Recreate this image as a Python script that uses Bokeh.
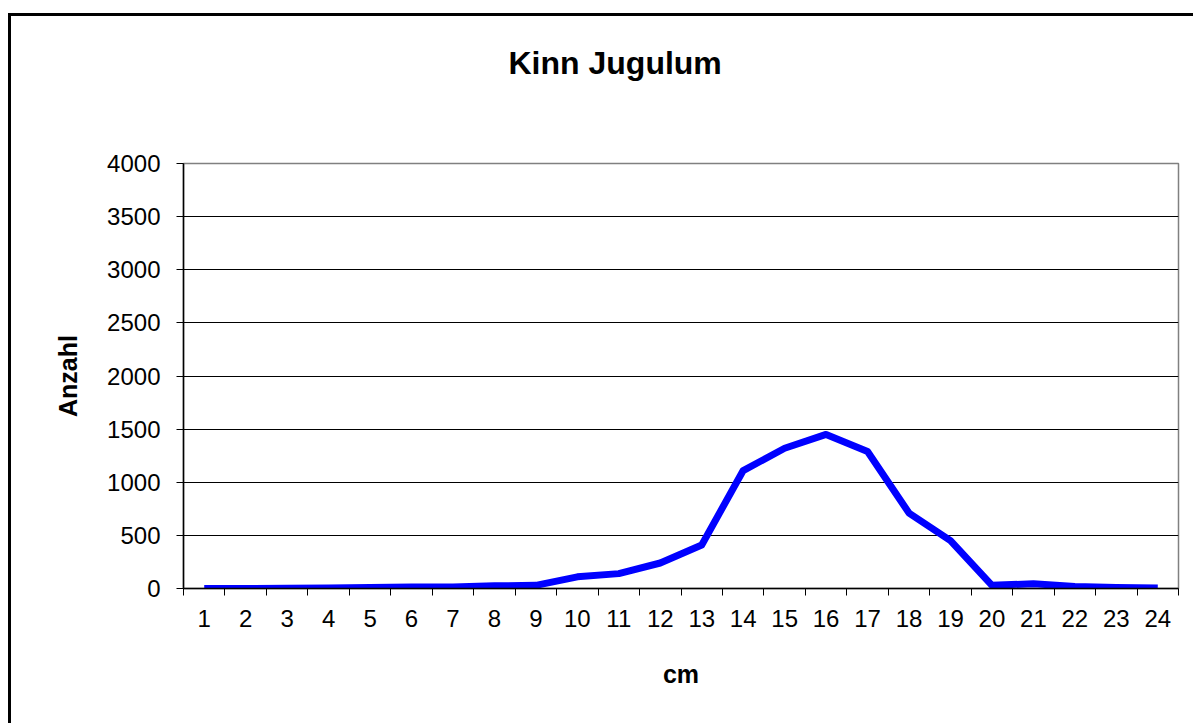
from bokeh.plotting import figure
from bokeh.models import Range1d, FixedTicker, Title
from bokeh.embed import file_html
from bokeh.resources import INLINE

# --- data ---
cm = [1, 2, 3, 4, 5, 6, 7, 8, 9, 10, 11, 12, 13, 14, 15, 16, 17, 18, 19, 20, 21, 22, 23, 24]
cm_labels = ["1", "2", "3", "4", "5", "6", "7", "8", "9", "10", "11", "12",
             "13", "14", "15", "16", "17", "18", "19", "20", "21", "22", "23", "24"]
anzahl = [0, 0, 2, 5, 10, 15, 15, 25, 30, 110, 140, 240, 410, 1110, 1320, 1450,
          1290, 710, 450, 30, 45, 20, 10, 5]
y_ticks = [0, 500, 1000, 1500, 2000, 2500, 3000, 3500, 4000]
grid_ticks = [500, 1000, 1500, 2000, 2500, 3000, 3500]

title_text = "Kinn Jugulum"
x_title = "cm"
y_title = "Anzahl"

FONT = "Liberation Sans"

p = figure(width=1185, height=710, output_backend="svg", toolbar_location=None,
           x_range=Range1d(0.5, len(cm) + 0.5), y_range=Range1d(0, 4000),
           min_border_left=172, min_border_right=18, min_border_top=146,
           min_border_bottom=138, title=title_text)

p.margin = (13, 0, 0, 8)
p.styles = {"border-top": "3px solid black", "border-left": "3px solid black"}

p.title.align = "left"
p.title.offset = 325
p.title.standoff = 52
p.title.text_font = FONT
p.title.text_font_size = "32px"
p.title.text_font_style = "bold"
p.title.text_color = "black"

# empty spacer between the title and the plot area
spacer = Title(text=" ", text_font_size="10px", standoff=44)
p.add_layout(spacer, "above")

p.background_fill_color = "white"
p.border_fill_color = "white"
p.outline_line_color = "#808080"
p.outline_line_width = 1.5

# x axis: labels at centers, tick marks between categories
p.xaxis.ticker = FixedTicker(ticks=cm, minor_ticks=[c - 0.5 for c in cm] + [cm[-1] + 0.5])
p.xaxis.major_label_overrides = {c: l for c, l in zip(cm, cm_labels)}
p.xaxis.major_tick_out = 0
p.xaxis.major_tick_in = 0
p.xaxis.minor_tick_out = 7
p.xaxis.minor_tick_in = 0
p.xaxis.minor_tick_line_color = "black"
p.xaxis.major_label_standoff = 14
p.xaxis.axis_label = x_title
p.xaxis.axis_label_standoff = 30

# y axis
p.yaxis.ticker = FixedTicker(ticks=y_ticks, minor_ticks=[])
p.yaxis.major_tick_out = 7
p.yaxis.major_tick_in = 0
p.yaxis.major_label_standoff = 16
p.yaxis.axis_label = y_title
p.yaxis.axis_label_standoff = 22

for ax in (p.xaxis, p.yaxis):
    ax.axis_line_color = "black"
    ax.axis_line_width = 1.5
    ax.major_tick_line_color = "black"
    ax.major_label_text_font = FONT
    ax.major_label_text_font_size = "24px"
    ax.major_label_text_color = "black"
    ax.axis_label_text_font = FONT
    ax.axis_label_text_font_size = "25px"
    ax.axis_label_text_font_style = "bold"
    ax.axis_label_text_color = "black"

p.xgrid.visible = False
p.ygrid.ticker = FixedTicker(ticks=grid_ticks, minor_ticks=[])
p.ygrid.grid_line_color = "black"
p.ygrid.grid_line_width = 1

p.line(cm, anzahl, line_color="#0000FF", line_width=7, line_join="round")

open("out.html", "w").write(file_html(p, INLINE))
